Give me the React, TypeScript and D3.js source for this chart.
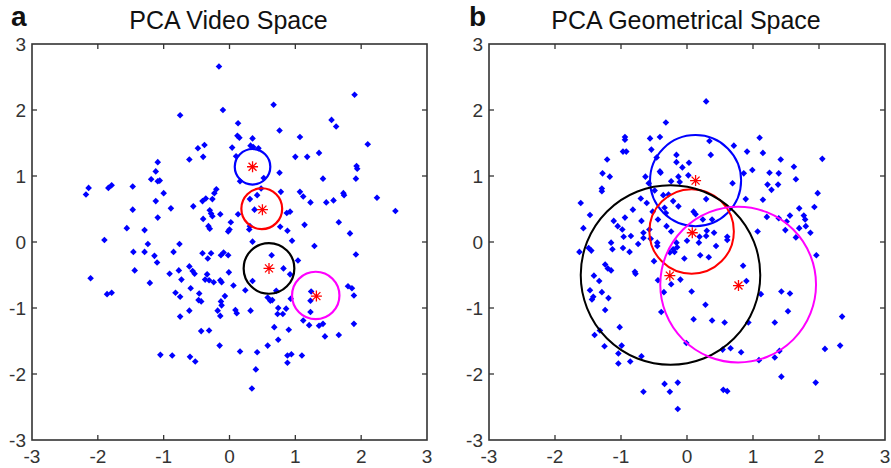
import React from "react";
import * as d3 from "d3";

// ---------- data ----------
const tickValues = [-3, -2, -1, 0, 1, 2, 3];
const panelLetters = ["a", "b"];
const panelTitles = ["PCA Video Space", "PCA Geometrical Space"];

// Panel a: PCA video space points
const videoX = [
  -0.16, -0.10, -0.75, 0.67, 1.90, 0.76, 1.55, 1.62, 0.13, 0.12, 0.15, 0.35, 1.07, 2.10, -0.38, -0.48, 0.04, 0.32, 0.36, 0.44,
  1.36, -0.61, -0.40, -1.09, 1.00, 1.18, 1.93, 1.94, 0.10, -1.12, -1.19, -1.09, -1.06, 0.76, 0.16, 0.52, 1.92, 1.42, -2.14, -2.18,
  -1.84, -1.79, -1.47, -1.00, -1.47, -1.12, -0.89, -1.09, -0.55, -0.41, -0.36, -0.26, -0.23, -0.20, -0.30, -0.28, -0.40, -0.26, -0.14, -0.32,
  -0.30, 0.02, 0.00, -0.02, 0.13, 0.31, 0.42, 0.38, 0.31, 0.30, 0.78, 1.07, 1.12, 1.23, 1.47, 1.58, 1.73, 1.74, 2.24, 2.52,
  0.87, 0.92, 1.14, 1.66, 0.77, 0.88, -1.56, -1.29, 1.83, 0.48,
  -1.90, 0.95, 1.29, 1.92, -1.46, -1.29, -1.24, -1.14, -1.10, -1.44, -1.21, -2.11, -1.86, -1.79, -0.85, -0.76, -0.77, -0.91, -0.73, -0.82,
  -0.75, -0.75, -0.61, -0.56, -0.53, -0.59, -0.61, -0.41, -0.28, -0.33, -0.34, -0.37, -0.31, -0.24, -0.46, -0.47, -0.43, -0.13, -0.09, -0.02,
  -0.01, -0.14, -0.12, 0.06, -0.07, -0.13, -0.12, -0.18, -0.14, 0.09, 0.11, 0.24, 0.32, 0.35, 0.35, 0.64, 0.82, 0.92, 1.04, 0.58,
  0.62, 0.65, 0.71, 0.74, 0.73, 0.86, 0.81, 0.93, 1.23, 1.24, 1.23, 1.80, 1.86, 1.89, 1.12, 1.21, 1.36, 1.42, 1.45, 1.66,
  1.89, 0.68, 0.74, 0.90, 0.58, 0.42, 0.88, 0.94, 1.10, 0.88, 0.40, 0.34, 0.16, -0.15, -0.43, -0.31, -1.05, -0.87, -0.60, -0.52,
];
const videoY = [
  2.66, 2.00, 1.92, 2.08, 2.23, 1.69, 1.85, 1.75, 1.80, 1.61, 1.58, 1.57, 1.59, 1.48, 1.47, 1.42, 1.43, 1.46, 1.44, 1.42,
  1.35, 1.25, 1.29, 1.21, 1.29, 1.29, 1.15, 1.11, 1.30, 1.07, 0.95, 0.92, 0.93, 1.05, 0.92, 0.97, 0.96, 0.96, 0.82, 0.72,
  0.82, 0.86, 0.84, 0.74, 0.49, 0.62, 0.51, 0.37, 0.54, 0.62, 0.66, 0.65, 0.74, 0.80, 0.48, 0.43, 0.35, 0.39, 0.42, 0.24,
  0.20, 0.30, 0.19, 0.16, 0.42, 0.65, 0.71, 0.49, 0.24, 0.19, 0.76, 0.76, 0.69, 0.60, 0.60, 0.63, 0.74, 0.71, 0.67, 0.47,
  0.44, 0.46, 0.26, 0.30, 0.23, 0.17, 0.21, 0.18, 0.13, 0.81,
  0.03, 0.02, -0.06, -0.19, -0.15, -0.15, -0.03, -0.21, -0.31, -0.43, -0.62, -0.55, -0.79, -0.77, -0.15, -0.03, -0.43, -0.48, -0.57, -0.77,
  -0.83, -1.13, -0.37, -0.44, -0.48, -0.70, -1.04, -0.17, -0.17, -0.25, -0.49, -0.57, -0.58, -0.61, -0.78, -0.88, -0.90, -0.20, -0.16, -0.20,
  -0.46, -0.58, -0.61, -0.66, -0.82, -0.90, -0.96, -1.04, -1.12, -1.03, -1.08, -0.73, -1.04, 0.005, -0.59, -0.20, -0.40, -0.49, -0.28, -0.84,
  -0.89, -0.88, -0.74, -1.00, -1.09, -1.01, -1.09, -0.86, -0.89, -0.75, -1.06, -0.67, -0.70, -0.81, -1.19, -1.26, -1.27, -1.24, -1.43, -1.41,
  -1.24, -1.29, -1.48, -1.33, -1.57, -1.67, -1.72, -1.70, -1.72, -1.83, -1.93, -2.22, -1.66, -1.57, -1.35, -1.34, -1.71, -1.72, -1.74, -1.81,
];
const videoCircleX = [0.35, 0.49, 0.6, 1.31];
const videoCircleY = [1.14, 0.505, -0.4, -0.81];
const videoCircleR = [0.27, 0.31, 0.385, 0.36];
const videoStarX = [0.35, 0.5, 0.6, 1.32];
const videoStarY = [1.14, 0.49, -0.4, -0.82];

// Panel b: PCA geometrical space points
const geoX = [
  0.29, -0.32, -0.94, -0.94, -0.56, -0.41, -0.97, -0.92, -0.54, -1.21, -1.28, -1.17, -1.29, -1.29, -1.61, -1.47, -1.57, -1.11, -1.05, -0.98,
  -0.94, -0.82, -0.70, -0.69, -0.61, -0.57, -0.52, -0.44, -0.49, -0.63, -0.58, -0.46, -0.41, -0.40, -0.16, -0.16, -0.07, 0.03, 0.02, -0.13,
  -0.11, -0.24, 0.36, 0.34, 0.71, 0.69, -0.36, -0.28, -0.21, -0.13, -0.34, -0.32, -0.31, -0.24, 0.10, 0.13, 0.29, 0.24, 0.38, 0.19,
  0.30, 0.41, 0.61, 0.89, 1.15, 1.07, 0.86, 0.99, 0.91, 1.10, 1.15, 1.42, 1.25, 1.39, 1.22, 1.28, 1.38, 1.62, 1.65, 2.05,
  1.98, 1.93, 1.70, 1.77, 1.79, 1.56, 1.51, 1.49, 1.70, 1.80, 1.87, 1.21, 1.39, 1.65, -0.66, -0.85, -0.96, -0.55,
  -1.63, -1.49, -1.45, -1.15, -1.13, -0.97, -0.87, -0.74, -0.66, -0.50, -0.45, -0.45, -0.44, -0.26, -0.21, -0.19, -0.16, -0.15, -0.04, 0.00,
  0.18, 0.20, 0.29, 0.33, 0.44, 0.61, -1.24, -1.20, -1.15, -0.79, -0.78, -1.41, -1.33, -1.47, -1.42, -1.44, -1.29, -1.19, -1.24, -0.35,
  -0.39, -0.24, -0.10, 0.07, 0.10, 0.28, 0.38, 0.57, 0.85, 0.90, 0.93, 1.12, 1.43, 1.56, 1.53, 1.33, 1.96, 2.35, 2.09, 2.32,
  1.95, 1.43, 1.33, 1.40, 1.09, 0.82, 0.66, 0.54, 0.55, 0.61, -0.34, -0.26, -0.14, -0.14, -0.66, -0.69, -0.86, -1.04, -1.04, -0.99,
  -1.02, -1.25, -1.32, -1.40, -0.01,
];
const geoY = [
  2.13, 1.81, 1.59, 1.55, 1.57, 1.59, 1.37, 1.37, 1.40, 1.25, 1.04, 0.99, 0.81, 0.77, 0.59, 0.41, 0.21, 0.32, 0.24, 0.19,
  0.37, 0.49, 0.66, 0.32, 0.59, 0.19, 0.46, 0.34, 0.78, 0.99, 0.89, 1.28, 1.07, 1.05, 1.32, 1.21, 1.13, 1.20, 1.01, 0.99,
  0.91, 0.92, 1.32, 1.53, 1.46, 0.89, 0.71, 0.72, 0.62, 0.54, 0.52, 0.44, 0.24, 0.16, 0.46, 0.42, 0.65, 0.34, 0.34, 0.08,
  0.17, 0.14, 0.08, 0.65, 0.64, 0.16, 1.04, 1.09, 1.37, 1.58, 1.35, 1.25, 1.05, 1.04, 0.87, 0.79, 0.87, 1.14, 0.95, 1.26,
  0.74, 0.53, 0.51, 0.40, 0.34, 0.40, 0.31, 0.18, 0.21, 0.24, 0.14, 0.38, 0.36, 0.07, 0.14, 0.09, 0.08, 0.05,
  -0.15, -0.09, -0.13, -0.01, -0.11, -0.09, -0.15, -0.03, 0.06, -0.29, -0.01, -0.06, -0.58, -0.16, -0.11, -0.15, -0.01, -0.08, -0.25, 0.02,
  -0.01, -0.20, 0.09, -0.23, -0.06, 0.03, -0.34, -0.40, -0.43, -0.45, -0.48, -0.51, -0.59, -0.73, -0.83, -0.87, -0.76, -0.85, -1.03, -0.76,
  -1.06, -0.64, -0.57, -0.75, -1.17, -0.95, -1.19, -1.22, -0.36, -0.59, -1.22, -0.79, -0.75, -0.78, -1.05, -1.22, -0.20, -1.13, -1.62, -1.57,
  -2.13, -2.04, -1.75, -1.65, -1.79, -1.67, -1.61, -1.63, -2.24, -2.26, -2.15, -2.27, -2.13, -2.53, -2.27, -1.73, -1.81, -1.84, -1.69, -1.57,
  -1.29, -1.58, -1.34, -1.41, -1.53,
];
const geoCircleX = [0.13, 0.07, -0.25, 0.775];
const geoCircleY = [0.93, 0.16, -0.5, -0.645];
const geoCircleR = [0.69, 0.64, 1.36, 1.18];
const geoStarX = [0.13, 0.08, -0.26, 0.78];
const geoStarY = [0.93, 0.14, -0.51, -0.66];

const circleColors = ["#0000ff", "#ff0000", "#000000", "#ff00ff"];

// ---------- layout ----------
const W = 891;
const H = 468;
const FONT = "'Liberation Sans', Arial, Helvetica, sans-serif";

type PanelProps = {
  left: number;
  right: number;
  top: number;
  bottom: number;
  letter: string;
  letterX: number;
  title: string;
  xs: number[];
  ys: number[];
  cx: number[];
  cy: number[];
  cr: number[];
  sx: number[];
  sy: number[];
  circleWidth: number;
};

function Panel(p: PanelProps) {
  const x = d3.scaleLinear().domain([-3, 3]).range([p.left, p.right]);
  const y = d3.scaleLinear().domain([-3, 3]).range([p.bottom, p.top]);
  const axisColor = "#333333";
  const tl = 5;
  const inner = tickValues.filter((t) => t > -3 && t < 3);
  const diamond = (px: number, py: number) => {
    const r = 3.3;
    return `M${px},${py - r}L${px + r},${py}L${px},${py + r}L${px - r},${py}Z`;
  };
  const star = (px: number, py: number) => {
    const a = 5.5;
    const b = 4;
    return `M${px - a},${py}L${px + a},${py}M${px},${py - a}L${px},${py + a}M${px - b},${py - b}L${px + b},${py + b}M${px - b},${py + b}L${px + b},${py - b}`;
  };
  return (
    <g>
      <text x={p.letterX} y={26} fontFamily={FONT} fontWeight="bold" fontSize={28} fill="#111">
        {p.letter}
      </text>
      <text x={(p.left + p.right) / 2 - 1} y={28.5} fontFamily={FONT} fontSize={25} textAnchor="middle" fill="#111">
        {p.title}
      </text>
      {p.xs.map((v, i) => (
        <path key={"p" + i} d={diamond(x(v), y(p.ys[i]))} fill="#0000ff" />
      ))}
      {p.cx.map((v, i) => (
        <circle
          key={"c" + i}
          cx={x(v)}
          cy={y(p.cy[i])}
          r={x(p.cr[i]) - x(0)}
          fill="none"
          stroke={circleColors[i]}
          strokeWidth={p.circleWidth}
        />
      ))}
      {p.sx.map((v, i) => (
        <path key={"s" + i} d={star(x(v), y(p.sy[i]))} stroke="#ff0000" strokeWidth={1.3} fill="none" />
      ))}
      <rect
        x={p.left}
        y={p.top}
        width={p.right - p.left}
        height={p.bottom - p.top}
        fill="none"
        stroke={axisColor}
        strokeWidth={1.6}
      />
      {inner.map((t) => (
        <g key={"t" + t} stroke={axisColor} strokeWidth={1.3}>
          <line x1={x(t)} x2={x(t)} y1={p.bottom} y2={p.bottom - tl} />
          <line x1={x(t)} x2={x(t)} y1={p.top} y2={p.top + tl} />
          <line x1={p.left} x2={p.left + tl} y1={y(t)} y2={y(t)} />
          <line x1={p.right} x2={p.right - tl} y1={y(t)} y2={y(t)} />
        </g>
      ))}
      {tickValues.map((t) => (
        <text
          key={"xl" + t}
          x={x(t)}
          y={p.bottom + 23}
          fontFamily={FONT}
          fontSize={19}
          textAnchor="middle"
          fill="#333"
        >
          {String(t)}
        </text>
      ))}
      {tickValues.map((t) => (
        <text
          key={"yl" + t}
          x={p.left - 6}
          y={y(t) + 6.5}
          fontFamily={FONT}
          fontSize={19}
          textAnchor="end"
          fill="#333"
        >
          {String(t)}
        </text>
      ))}
    </g>
  );
}

export default function App() {
  return (
    <svg
      width={W}
      height={H}
      viewBox={`0 0 ${W} ${H}`}
      style={{ position: "absolute", left: 0, top: 0, background: "#fff" }}
    >
      <rect x={0} y={0} width={W} height={H} fill="#fff" />
      <Panel
        left={32}
        right={427}
        top={44}
        bottom={440}
        letter={panelLetters[0]}
        letterX={11}
        title={panelTitles[0]}
        xs={videoX}
        ys={videoY}
        cx={videoCircleX}
        cy={videoCircleY}
        cr={videoCircleR}
        sx={videoStarX}
        sy={videoStarY}
        circleWidth={2.2}
      />
      <Panel
        left={489}
        right={885}
        top={44}
        bottom={440}
        letter={panelLetters[1]}
        letterX={469}
        title={panelTitles[1]}
        xs={geoX}
        ys={geoY}
        cx={geoCircleX}
        cy={geoCircleY}
        cr={geoCircleR}
        sx={geoStarX}
        sy={geoStarY}
        circleWidth={2}
      />
    </svg>
  );
}
